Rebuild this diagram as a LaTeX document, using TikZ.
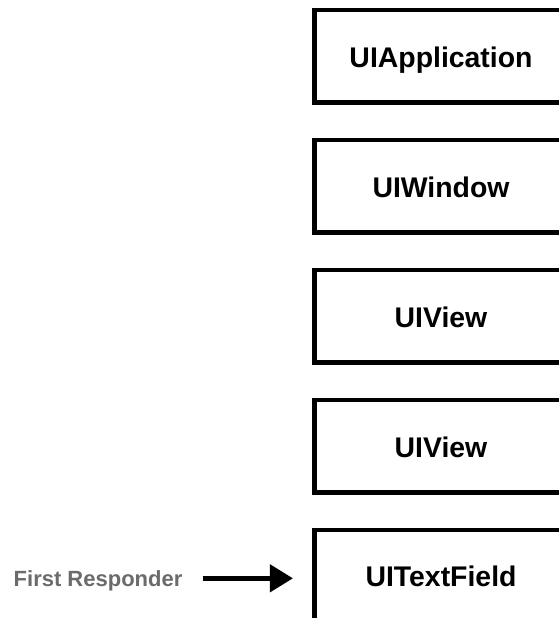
\documentclass[tikz,border=0pt]{standalone}
\usepackage{fontspec}
\setmainfont{Liberation Sans}
\usetikzlibrary{arrows.meta}
\definecolor{frgrey}{HTML}{6B6B6B}
\begin{document}
\begin{tikzpicture}[x=1pt,y=-1pt,
  classbox/.style={draw=black, line width=4.5pt, minimum width=252.6pt, minimum height=92.5pt,
    inner sep=0pt, font=\fontsize{28.4}{30}\selectfont\bfseries, text height=20.4pt, text depth=0pt},
  frlabel/.style={inner sep=0pt, font=\fontsize{22}{24}\selectfont\bfseries, text=frgrey,
    text height=15.9pt, text depth=0pt, anchor=west},
  pointer/.style={line width=4.5pt, -{Triangle[length=23pt,width=27pt]}}]
\useasboundingbox (0,0) rectangle (559,618);
\clip (0,0) rectangle (559,618);
\node[classbox] (b1) at (441,56.25) {\raisebox{-1.5pt}{UIApplication}};
\node[classbox] (b2) at (441,186.25) {\raisebox{-1.5pt}{UIWindow}};
\node[classbox] (b3) at (441,316.25) {\raisebox{-1.5pt}{UIView}};
\node[classbox] (b4) at (441,446.25) {\raisebox{-1.5pt}{UIView}};
\node[classbox] (b5) at (441,576.25) {\raisebox{-0.5pt}{UITextField}};
\node[frlabel] (fr) at (13.5,578.3) {First Responder};
\draw[pointer, shorten <=20pt, shorten >=19.5pt] (fr.east) -- (fr.east -| b5.west);
\end{tikzpicture}
\end{document}
